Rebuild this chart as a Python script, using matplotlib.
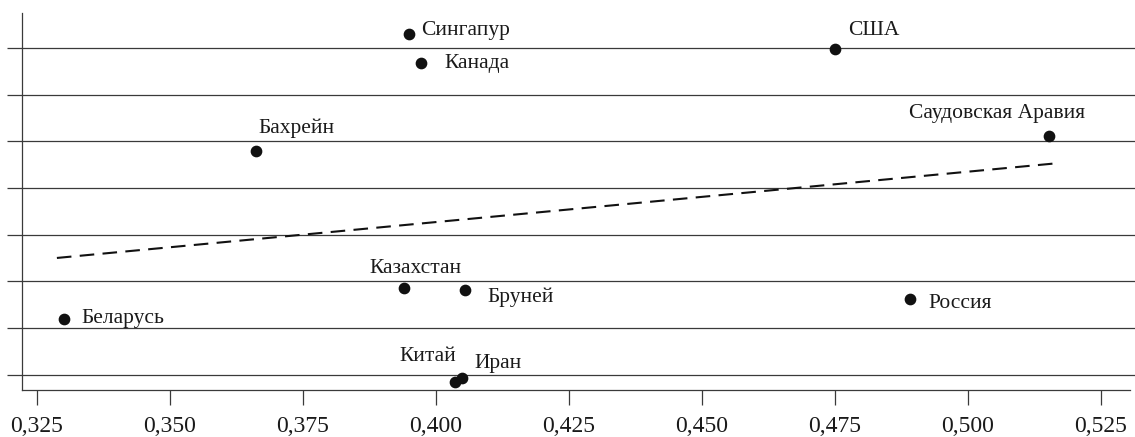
import matplotlib.pyplot as plt
from matplotlib.ticker import FuncFormatter

plt.rcParams['font.family'] = ['Liberation Serif', 'DejaVu Serif']

countries = ['Сингапур', 'США', 'Канада', 'Бахрейн', 'Саудовская Аравия',
             'Казахстан', 'Бруней', 'Россия', 'Беларусь', 'Китай', 'Иран']
x_vals = [0.3950, 0.4751, 0.3972, 0.3662, 0.5153, 0.3940, 0.4055, 0.4892, 0.3302, 0.4036, 0.4049]
y_vals = [7.31, 6.98, 6.67, 4.79, 5.11, 1.85, 1.81, 1.63, 1.20, -0.15, -0.08]

trend_x = [0.3288, 0.5168]
trend_y = [2.50, 4.53]

x_ticks = [0.325, 0.350, 0.375, 0.400, 0.425, 0.450, 0.475, 0.500, 0.525]
y_ticks = [0, 1, 2, 3, 4, 5, 6, 7]

# label placement: (dx, dy in pixels, ha)
label_pos = {
    'Сингапур': (12, 3, 'left'),
    'США': (13, 18, 'left'),
    'Канада': (24, 0, 'left'),
    'Бахрейн': (3, 23, 'left'),
    'Саудовская Аравия': (36, 23, 'right'),
    'Казахстан': (12, 20, 'center'),
    'Бруней': (22, -7, 'left'),
    'Россия': (18, -5, 'left'),
    'Беларусь': (17, 0, 'left'),
    'Китай': (1, 25, 'right'),
    'Иран': (13, 15, 'left'),
}

fig = plt.figure(figsize=(11.35, 4.37), dpi=100)
ax = fig.add_axes([22 / 1135, 1 - 390 / 437, (1130 - 22) / 1135, (390 - 13) / 437])

ax.set_xlim(0.32224, 0.53051)
ax.set_ylim(-0.33, 7.75)

for yt in y_ticks:
    ax.axhline(yt, xmax=1.005, color='#3a3a3a', lw=0.9, zorder=1, clip_on=False)

ax.plot(trend_x, trend_y, color='#111111', lw=1.5, dashes=[7, 4], zorder=2)
ax.scatter(x_vals, y_vals, s=55, color='#111111', zorder=3)

for name, xv, yv in zip(countries, x_vals, y_vals):
    dx, dy, ha = label_pos[name]
    ax.annotate(name, (xv, yv), xytext=(dx, dy), textcoords='offset pixels',
                ha=ha, va='center', fontsize=15.5, color='#1a1a1a')

ax.set_xticks(x_ticks)
ax.xaxis.set_major_formatter(FuncFormatter(lambda v, p: f'{v:.3f}'.replace('.', ',')))
ax.set_yticks(y_ticks)
ax.set_yticklabels([])
ax.tick_params(axis='x', length=11, width=0.9, pad=8, labelsize=17, colors='#3a3a3a',
               labelcolor='#1a1a1a')
ax.tick_params(axis='y', length=11, width=0.9, colors='#3a3a3a')

for s in ['top', 'right']:
    ax.spines[s].set_visible(False)
for s in ['left', 'bottom']:
    ax.spines[s].set_color('#3a3a3a')
    ax.spines[s].set_linewidth(0.9)

fig.savefig('out.png', dpi=100, facecolor='white')
